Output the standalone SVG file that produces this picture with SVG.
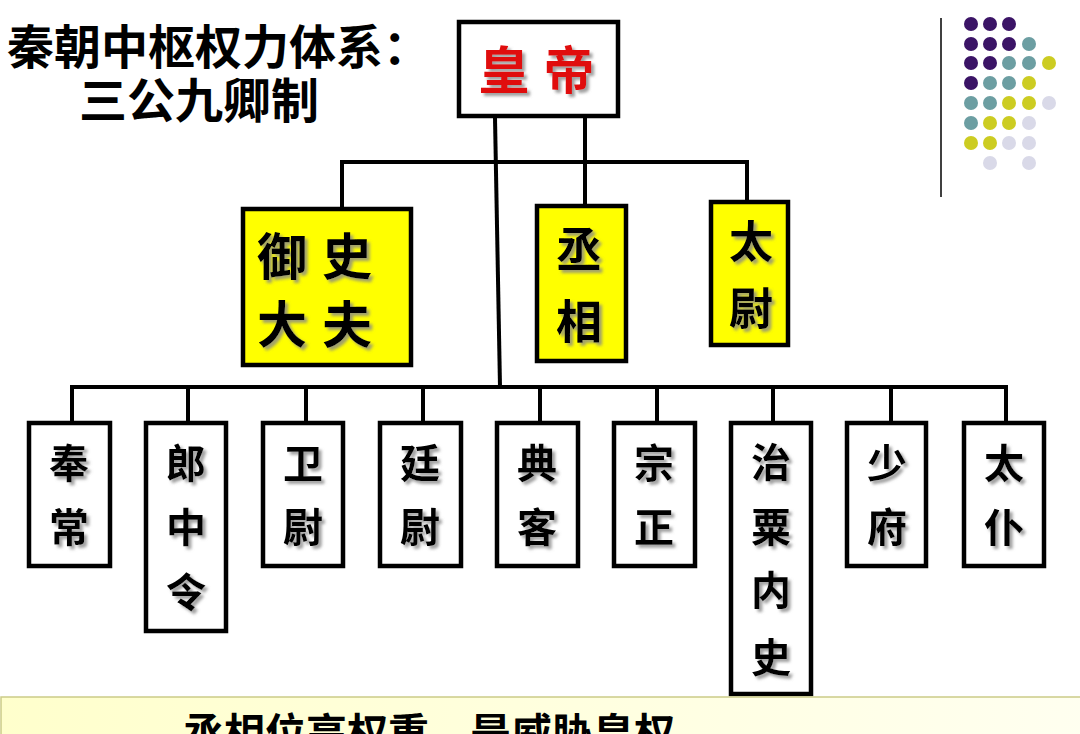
<svg xmlns="http://www.w3.org/2000/svg" width="1080" height="734" viewBox="0 0 1080 734">
<style>
.box{fill:#ffffff;stroke:#000000;stroke-width:4.5}
.ybox{fill:#ffff00;stroke:#000000;stroke-width:4.5}
.cn{font-family:"Liberation Sans","Noto Sans CJK SC",sans-serif;font-weight:bold;text-anchor:middle;fill:#000000}
.title{font-family:"Liberation Sans","Noto Sans CJK SC",sans-serif;font-weight:bold;fill:#000000}
.wire{fill:none;stroke:#000000;stroke-width:4}
</style>
<defs>
<filter id="sh" x="-30%" y="-30%" width="160%" height="160%">
<feDropShadow dx="3" dy="3" stdDeviation="1.5" flood-color="#888888" flood-opacity="0.8"/>
</filter>
<linearGradient id="band" x1="0" y1="0" x2="1" y2="0">
<stop offset="0" stop-color="#ffffcc"/>
<stop offset="1" stop-color="#fffff0"/>
</linearGradient>
</defs>
<rect width="1080" height="734" fill="#ffffff"/>

<g id="title">
<text class="title" x="7" y="64" font-size="47">秦朝中枢权力体系：</text>
<text class="title" x="79" y="118" font-size="48">三公九卿制</text>
</g>

<g id="decoration">
<line x1="941" y1="18" x2="941" y2="197" stroke="#000000" stroke-width="1.5"/>
<g fill="#3b1466">
<circle cx="971" cy="24" r="7"/><circle cx="990" cy="24" r="7"/><circle cx="1009" cy="24" r="7"/>
<circle cx="971" cy="44" r="7"/><circle cx="990" cy="44" r="7"/><circle cx="1009" cy="44" r="7"/>
<circle cx="971" cy="63" r="7"/><circle cx="990" cy="63" r="7"/>
<circle cx="971" cy="83" r="7"/>
</g>
<g fill="#6c9ea2">
<circle cx="1029" cy="44" r="7"/>
<circle cx="1009" cy="63" r="7"/><circle cx="1029" cy="63" r="7"/>
<circle cx="990" cy="83" r="7"/><circle cx="1009" cy="83" r="7"/>
<circle cx="971" cy="103" r="7"/><circle cx="990" cy="103" r="7"/>
<circle cx="971" cy="123" r="7"/>
</g>
<g fill="#cccc22">
<circle cx="1049" cy="63" r="7"/>
<circle cx="1029" cy="83" r="7"/>
<circle cx="1009" cy="103" r="7"/><circle cx="1029" cy="103" r="7"/>
<circle cx="990" cy="123" r="7"/><circle cx="1009" cy="123" r="7"/>
<circle cx="971" cy="143" r="7"/><circle cx="990" cy="143" r="7"/>
</g>
<g fill="#d9d9e8">
<circle cx="1049" cy="103" r="7"/>
<circle cx="1029" cy="123" r="7"/>
<circle cx="1009" cy="143" r="7"/><circle cx="1029" cy="143" r="7"/>
<circle cx="990" cy="163" r="7"/><circle cx="1029" cy="163" r="7"/>
</g>
</g>

<g id="connectors">
<polyline class="wire" points="495,118 500,387"/>
<line class="wire" x1="585" y1="118" x2="585" y2="162"/>
<polyline class="wire" points="342,208 342,162 747,162 747,201"/>
<line class="wire" x1="585" y1="162" x2="585" y2="205"/>
<polyline class="wire" points="72,421 72,387 1006,387 1006,421"/>
<line class="wire" x1="188" y1="387" x2="188" y2="421"/>
<line class="wire" x1="306" y1="387" x2="306" y2="421"/>
<line class="wire" x1="423" y1="387" x2="423" y2="421"/>
<line class="wire" x1="540" y1="387" x2="540" y2="421"/>
<line class="wire" x1="657" y1="387" x2="657" y2="421"/>
<line class="wire" x1="773" y1="387" x2="773" y2="421"/>
<line class="wire" x1="891" y1="387" x2="891" y2="421"/>
</g>

<g id="huangdi">
<rect class="box" x="459" y="22" width="159" height="94"/>
<text class="cn" x="504" y="89" font-size="51" style="fill:#e01010" filter="url(#sh)">皇</text>
<text class="cn" x="569" y="89" font-size="51" style="fill:#e01010" filter="url(#sh)">帝</text>
</g>

<g id="yushidafu">
<rect class="ybox" x="243" y="209" width="168" height="156"/>
<text class="cn" x="282" y="275" font-size="50" filter="url(#sh)">御</text>
<text class="cn" x="347" y="275" font-size="50" filter="url(#sh)">史</text>
<text class="cn" x="282" y="343" font-size="50" filter="url(#sh)">大</text>
<text class="cn" x="347" y="343" font-size="50" filter="url(#sh)">夫</text>
</g>

<g id="chengxiang">
<rect class="ybox" x="537" y="206" width="89" height="155"/>
<text class="cn" x="579" y="266" font-size="46" filter="url(#sh)">丞</text>
<text class="cn" x="579" y="338" font-size="46" filter="url(#sh)">相</text>
</g>

<g id="taiwei">
<rect class="ybox" x="711" y="202" width="77" height="143"/>
<text class="cn" x="751" y="258" font-size="44" filter="url(#sh)">太</text>
<text class="cn" x="751" y="325" font-size="44" filter="url(#sh)">尉</text>
</g>

<g id="fengchang">
<rect class="box" x="29" y="423" width="81" height="143"/>
<text class="cn" x="69" y="478" font-size="40" filter="url(#sh)">奉</text>
<text class="cn" x="69" y="542" font-size="40" filter="url(#sh)">常</text>
</g>
<g id="langzhongling">
<rect class="box" x="146" y="423" width="80" height="208"/>
<text class="cn" x="186" y="478" font-size="40" filter="url(#sh)">郎</text>
<text class="cn" x="186" y="542" font-size="40" filter="url(#sh)">中</text>
<text class="cn" x="186" y="607" font-size="40" filter="url(#sh)">令</text>
</g>
<g id="weiwei">
<rect class="box" x="263" y="423" width="80" height="143"/>
<text class="cn" x="303" y="478" font-size="40" filter="url(#sh)">卫</text>
<text class="cn" x="303" y="542" font-size="40" filter="url(#sh)">尉</text>
</g>
<g id="tingwei">
<rect class="box" x="380" y="423" width="81" height="143"/>
<text class="cn" x="420" y="478" font-size="40" filter="url(#sh)">廷</text>
<text class="cn" x="420" y="542" font-size="40" filter="url(#sh)">尉</text>
</g>
<g id="dianke">
<rect class="box" x="497" y="423" width="81" height="143"/>
<text class="cn" x="537" y="478" font-size="40" filter="url(#sh)">典</text>
<text class="cn" x="537" y="542" font-size="40" filter="url(#sh)">客</text>
</g>
<g id="zongzheng">
<rect class="box" x="614" y="423" width="81" height="143"/>
<text class="cn" x="654" y="478" font-size="40" filter="url(#sh)">宗</text>
<text class="cn" x="654" y="542" font-size="40" filter="url(#sh)">正</text>
</g>
<g id="zhisuneishi">
<rect class="box" x="731" y="423" width="80" height="271"/>
<text class="cn" x="771" y="477" font-size="40" filter="url(#sh)">治</text>
<text class="cn" x="771" y="542" font-size="40" filter="url(#sh)">粟</text>
<text class="cn" x="771" y="605" font-size="40" filter="url(#sh)">内</text>
<text class="cn" x="771" y="672" font-size="40" filter="url(#sh)">史</text>
</g>
<g id="shaofu">
<rect class="box" x="847" y="423" width="79" height="143"/>
<text class="cn" x="887" y="478" font-size="40" filter="url(#sh)">少</text>
<text class="cn" x="887" y="542" font-size="40" filter="url(#sh)">府</text>
</g>
<g id="taipu">
<rect class="box" x="964" y="423" width="80" height="143"/>
<text class="cn" x="1004" y="478" font-size="40" filter="url(#sh)">太</text>
<text class="cn" x="1004" y="542" font-size="40" filter="url(#sh)">仆</text>
</g>

<g id="note">
<rect x="1" y="697" width="1090" height="60" fill="url(#band)" stroke="#cccc88" stroke-width="1.5"/>
<text class="title" x="183" y="748" font-size="41">丞相位高权重，是威胁皇权</text>
</g>
</svg>
